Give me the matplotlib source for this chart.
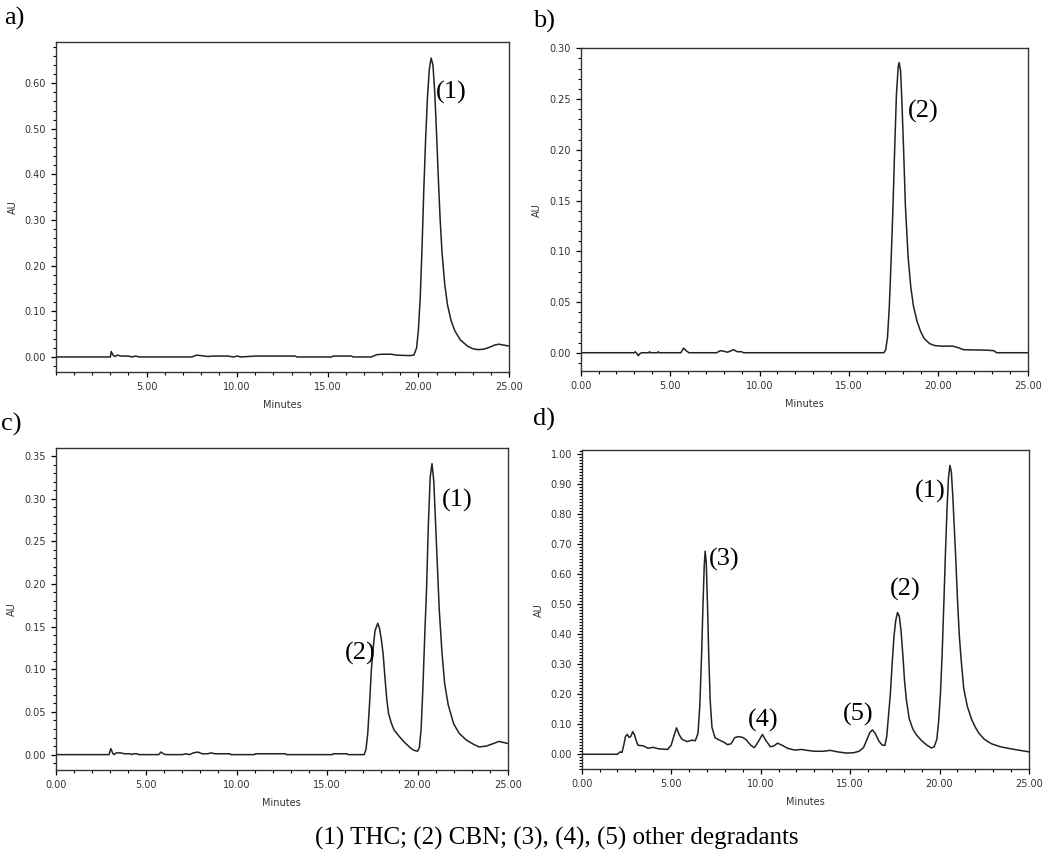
import matplotlib
matplotlib.use("Agg")
import matplotlib.pyplot as plt
from matplotlib.ticker import MultipleLocator, FormatStrFormatter

# traced chromatograms (minutes, AU)
a_time = [0, 3.0, 3.05, 3.15, 3.25, 3.4, 3.6, 4.0, 4.2, 4.4, 4.6, 7.5, 7.75, 8.0, 8.4, 8.6, 9.5, 9.8, 10.0, 10.2,
          11.0, 13.2, 13.3, 15.2, 15.3, 16.3, 16.4, 17.4, 17.7, 18.0, 18.5, 18.8, 19.5, 19.75, 19.9, 20.0, 20.1,
          20.2, 20.3, 20.4, 20.5, 20.6, 20.7, 20.8, 20.9, 21.0, 21.1, 21.2, 21.3, 21.45, 21.6, 21.8, 22.0, 22.3,
          22.7, 23.0, 23.3, 23.6, 23.9, 24.2, 24.45, 24.7, 25.0]
a_au = [0, 0, 0.012, 0.004, 0.001, 0.004, 0.002, 0.002, 0.0, 0.002, 0.0, 0.0, 0.004, 0.003, 0.001, 0.002, 0.002,
        0.0, 0.002, 0.0, 0.002, 0.002, 0.0, 0.0, 0.002, 0.002, 0.0, 0.0, 0.005, 0.006, 0.006, 0.004, 0.003, 0.004,
        0.02, 0.06, 0.13, 0.24, 0.37, 0.48, 0.57, 0.63, 0.655, 0.64, 0.58, 0.49, 0.39, 0.3, 0.23, 0.16, 0.115,
        0.08, 0.058, 0.038, 0.024, 0.018, 0.016, 0.017, 0.021, 0.026, 0.028, 0.026, 0.024]

b_time = [0, 3.0, 3.05, 3.15, 3.22, 3.3, 3.4, 3.8, 3.85, 3.9, 4.3, 4.33, 4.4, 5.6, 5.75, 5.9, 6.05, 7.6, 7.8, 8.0,
          8.2, 8.35, 8.55, 8.75, 9.0, 9.1, 16.95, 17.05, 17.15, 17.25, 17.35, 17.45, 17.55, 17.65, 17.75, 17.8,
          17.88, 17.95, 18.05, 18.15, 18.3, 18.45, 18.6, 18.8, 19.0, 19.2, 19.5, 19.8, 20.2, 20.8, 21.1, 21.4,
          22.7, 23.1, 23.25, 25.0]
b_au = [0, 0, 0.001, -0.001, -0.003, -0.001, 0.0, 0.0, 0.001, 0.0, 0.0, 0.001, 0.0, 0.0, 0.0045, 0.002, 0.0, 0.0,
        0.002, 0.0015, 0.0005, 0.0015, 0.003, 0.001, 0.001, 0.0, 0.0, 0.003, 0.015, 0.045, 0.09, 0.14, 0.2, 0.255,
        0.282, 0.286, 0.278, 0.25, 0.2, 0.145, 0.095, 0.065, 0.046, 0.031, 0.021, 0.014, 0.009, 0.007, 0.0065,
        0.0065, 0.005, 0.003, 0.0025, 0.002, 0.0, 0.0]

c_time = [0, 2.95, 3.05, 3.15, 3.22, 3.35, 3.6, 3.8, 4.1, 4.2, 4.3, 4.5, 4.6, 5.7, 5.82, 5.95, 6.1, 7.0, 7.2, 7.4,
          7.6, 7.85, 8.1, 8.4, 8.6, 8.8, 9.6, 9.7, 11.0, 11.05, 12.7, 12.75, 15.3, 15.35, 16.1, 16.15, 17.05,
          17.15, 17.25, 17.35, 17.45, 17.55, 17.65, 17.8, 17.9, 18.0, 18.1, 18.2, 18.3, 18.4, 18.55, 18.7, 19.0,
          19.3, 19.6, 19.8, 20.0, 20.1, 20.2, 20.3, 20.4, 20.5, 20.6, 20.7, 20.8, 20.9, 21.0, 21.1, 21.2, 21.35,
          21.5, 21.7, 22.0, 22.3, 22.7, 23.1, 23.4, 23.8, 24.2, 24.5, 24.8, 25.0]
c_au = [0, 0, 0.007, 0.002, 0.0, 0.002, 0.002, 0.001, 0.001, 0.0, 0.001, 0.001, 0.0, 0.0, 0.003, 0.001, 0.0, 0.0,
        0.001, 0.0, 0.002, 0.003, 0.001, 0.001, 0.002, 0.001, 0.001, 0.0, 0.0, 0.001, 0.001, 0.0, 0.0, 0.001,
        0.001, 0.0, 0.0, 0.006, 0.025, 0.06, 0.1, 0.125, 0.145, 0.154, 0.148, 0.135, 0.118, 0.09, 0.065, 0.048,
        0.037, 0.029, 0.021, 0.014, 0.008, 0.005, 0.004, 0.008, 0.03, 0.08, 0.14, 0.195, 0.27, 0.325, 0.341,
        0.32, 0.27, 0.22, 0.17, 0.12, 0.083, 0.058, 0.036, 0.025, 0.017, 0.012, 0.009, 0.01, 0.013, 0.0155,
        0.014, 0.013]

d_time = [0, 2.0, 2.15, 2.25, 2.35, 2.45, 2.55, 2.65, 2.75, 2.85, 2.95, 3.05, 3.15, 3.45, 3.7, 4.0, 4.3, 4.8,
          5.0, 5.15, 5.3, 5.45, 5.6, 5.9, 6.15, 6.35, 6.5, 6.6, 6.7, 6.78, 6.85, 6.9, 6.96, 7.03, 7.1, 7.18,
          7.28, 7.45, 7.7, 7.95, 8.15, 8.35, 8.55, 8.75, 9.0, 9.2, 9.45, 9.65, 9.85, 10.1, 10.3, 10.55, 10.75,
          10.95, 11.2, 11.5, 11.9, 12.3, 12.6, 13.0, 13.5, 13.9, 14.3, 14.8, 15.2, 15.5, 15.75, 15.95, 16.1,
          16.25, 16.4, 16.6, 16.8, 16.95, 17.05, 17.15, 17.25, 17.35, 17.45, 17.55, 17.65, 17.75, 17.85, 17.95,
          18.05, 18.15, 18.3, 18.5, 18.7, 19.0, 19.3, 19.55, 19.7, 19.85, 19.95, 20.05, 20.15, 20.25, 20.33,
          20.42, 20.5, 20.58, 20.66, 20.74, 20.82, 20.9, 21.0, 21.1, 21.2, 21.35, 21.55, 21.8, 22.0, 22.2, 22.5,
          22.9, 23.4, 24.0, 24.5, 25.0]
d_au = [0, 0, 0.008, 0.006, 0.03, 0.06, 0.066, 0.056, 0.06, 0.075, 0.065, 0.045, 0.03, 0.028, 0.02, 0.023, 0.018,
        0.016, 0.03, 0.06, 0.088, 0.065, 0.05, 0.042, 0.047, 0.045, 0.07, 0.16, 0.33, 0.5, 0.63, 0.676, 0.64,
        0.5, 0.33, 0.18, 0.09, 0.055, 0.047, 0.04, 0.032, 0.035, 0.055, 0.059, 0.056, 0.048, 0.03, 0.022, 0.04,
        0.066, 0.045, 0.025, 0.028, 0.037, 0.03, 0.02, 0.014, 0.016, 0.013, 0.01, 0.01, 0.013, 0.008, 0.004,
        0.005, 0.01, 0.022, 0.05, 0.072, 0.081, 0.07, 0.045, 0.03, 0.03, 0.06, 0.13, 0.2, 0.3, 0.39, 0.445,
        0.472, 0.46, 0.41, 0.33, 0.24, 0.18, 0.12, 0.085, 0.065, 0.045, 0.03, 0.021, 0.025, 0.05, 0.11, 0.2,
        0.34, 0.52, 0.67, 0.82, 0.92, 0.962, 0.94, 0.86, 0.76, 0.66, 0.52, 0.4, 0.32, 0.22, 0.16, 0.115, 0.09,
        0.07, 0.05, 0.035, 0.025, 0.018, 0.013, 0.008]

# peak labels: (text, minutes, AU)
a_labels = [("(1)", 21.8, 0.58)]
b_labels = [("(2)", 19.15, 0.238)]
c_labels = [("(1)", 22.2, 0.298), ("(2)", 16.82, 0.1185)]
d_labels = [("(3)", 7.95, 0.649), ("(4)", 10.12, 0.114), ("(5)", 15.46, 0.131),
            ("(2)", 18.07, 0.549), ("(1)", 19.5, 0.874)]

caption = "(1) THC; (2) CBN; (3), (4), (5) other degradants"

fig = plt.figure(figsize=(10.5, 8.58), dpi=100)
serif = "Liberation Serif"

panels = [
    # letter, letter pos, rect, time, au, labels, ylim, ymajor, yminor, xticks
    ("a)", (0.004, 0.978), [0.0533, 0.5664, 0.4315, 0.3846], a_time, a_au, a_labels, (-0.033, 0.69), 0.10, 0.02, [5, 10, 15, 20, 25]),
    ("b)", (0.508, 0.975), [0.5530, 0.5676, 0.4260, 0.3761], b_time, b_au, b_labels, (-0.018, 0.30), 0.05, 0.01, [0, 5, 10, 15, 20, 25]),
    ("c)", (0.001, 0.505), [0.0530, 0.1026, 0.4308, 0.3749], c_time, c_au, c_labels, (-0.018, 0.359), 0.05, 0.01, [0, 5, 10, 15, 20, 25]),
    ("d)", (0.508, 0.511), [0.5540, 0.1034, 0.4260, 0.3721], d_time, d_au, d_labels, (-0.05, 1.013), 0.10, 0.01, [0, 5, 10, 15, 20, 25]),
]

for letter, lpos, rect, t, y, labels, ylim, ymaj, ymin, xt in panels:
    ax = fig.add_axes(rect)
    ax.plot(t, y, color="#222222", lw=1.1)
    ax.set_xlim(0, 25)
    ax.set_ylim(*ylim)
    ax.set_xticks(xt)
    ax.xaxis.set_minor_locator(MultipleLocator(1))
    ax.yaxis.set_major_locator(MultipleLocator(ymaj))
    ax.yaxis.set_minor_locator(MultipleLocator(ymin))
    ax.xaxis.set_major_formatter(FormatStrFormatter("%.2f"))
    ax.yaxis.set_major_formatter(FormatStrFormatter("%.2f"))
    ax.tick_params(which="major", direction="out", length=3.5, width=0.9, labelsize=7,
                   labelcolor="#333333", top=False, right=False)
    ax.tick_params(which="minor", direction="out", length=2, width=0.8, top=False, right=False)
    for s in ax.spines.values():
        s.set_linewidth(1.0)
        s.set_color("#333333")
    ax.set_xlabel("Minutes", fontsize=7, color="#333333", labelpad=6)
    ax.set_ylabel("AU", fontsize=7, color="#333333", labelpad=5)
    for txt, px, py in labels:
        ax.text(px, py, txt, fontsize=19, family=serif, ha="center", va="center")
    fig.text(lpos[0], lpos[1], letter, fontsize=19, family=serif, ha="left", va="center")

fig.text(0.53, 0.023, caption, fontsize=18, family=serif, ha="center", va="center")

fig.savefig("out.png", dpi=100)
